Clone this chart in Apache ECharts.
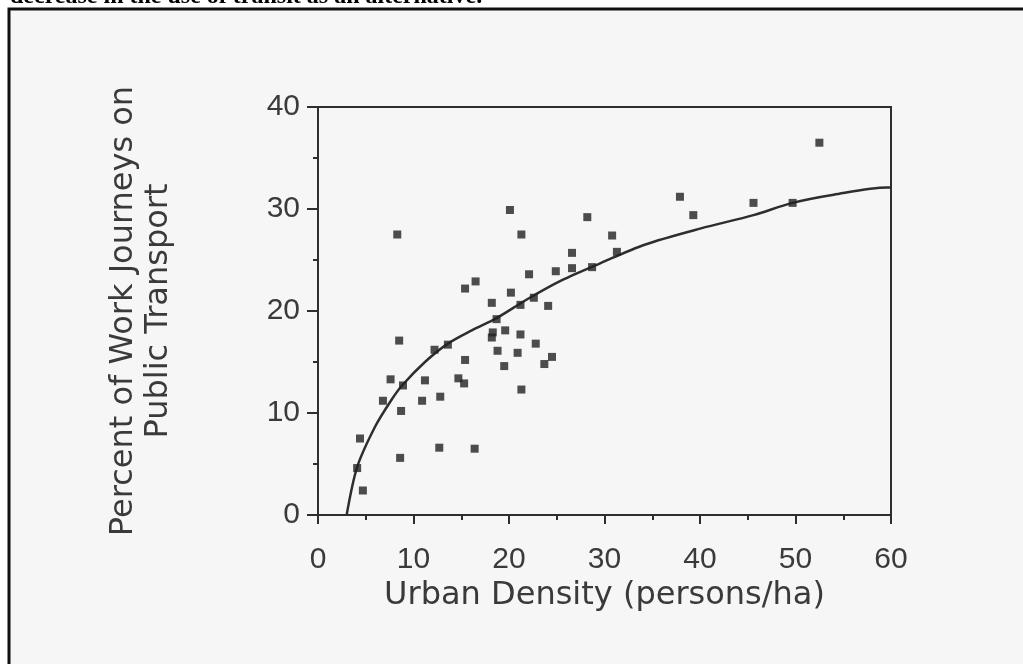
<!DOCTYPE html>
<html>
<head>
<meta charset="utf-8">
<script src="https://cdn.jsdelivr.net/npm/echarts@6/dist/echarts.min.js"></script>
<style>
  html, body { margin: 0; padding: 0; background: #fff; }
  #chart { width: 1023px; height: 664px; }
</style>
</head>
<body>
<div id="chart"></div>
<script>
// Cities: urban density (persons/ha) vs. % of work journeys on public transport
const densityX = [8.3, 20.1, 21.3, 28.2, 30.8, 31.3, 26.6, 26.6, 28.7, 24.9, 22.1, 16.5, 15.4, 20.2,
    18.2, 22.6, 21.2, 24.1, 18.7, 18.3, 18.2, 19.6, 21.2, 22.8, 18.8, 20.9, 24.5, 23.7, 19.5, 21.3,
    15.4, 14.7, 15.3, 13.6, 12.2, 8.5, 11.2, 10.9, 12.8, 7.6, 8.9, 6.8, 8.7, 12.7, 16.4, 8.6,
    4.4, 4.1, 4.7, 52.5, 37.9, 39.3, 45.6, 49.7];
const transitY = [27.5, 29.9, 27.5, 29.2, 27.4, 25.8, 25.7, 24.2, 24.3, 23.9, 23.6, 22.9, 22.2, 21.8,
    20.8, 21.3, 20.6, 20.5, 19.2, 17.9, 17.4, 18.1, 17.7, 16.8, 16.1, 15.9, 15.5, 14.8, 14.6, 12.3,
    15.2, 13.4, 12.9, 16.7, 16.2, 17.1, 13.2, 11.2, 11.6, 13.3, 12.7, 11.2, 10.2, 6.6, 6.5, 5.6,
    7.5, 4.6, 2.4, 36.5, 31.2, 29.4, 30.6, 30.6];

// fitted curve
const curveX = [3.0, 4.1, 6.0, 7.7, 8.8, 11.2, 13.6, 16.1, 18.7, 22.0, 25.5, 29.6, 34.2, 40.1, 45.6, 49.7, 54.0, 59.6, 60.0];
const curveY = [0, 4.7, 8.7, 11.3, 12.7, 15.0, 16.8, 18.1, 19.3, 21.2, 23.0, 24.7, 26.5, 28.1, 29.4, 30.6, 31.4, 32.1, 32.1];

const xTicks = [0, 10, 20, 30, 40, 50, 60];
const yTicks = [0, 10, 20, 30, 40];

const topText = 'decrease in the use of transit as an alternative.';
const xTitle = 'Urban Density (persons/ha)';
const yTitle = 'Percent of Work Journeys on\nPublic Transport';

const ink = '#2e2e2e';

const chart = echarts.init(document.getElementById('chart'));

chart.setOption({
    backgroundColor: '#fff',
    animation: false,
    graphic: [
        {
            type: 'rect', z: -10, silent: true,
            shape: { x: 9, y: 9, width: 1040, height: 700 },
            style: { fill: '#f6f6f6', stroke: '#111', lineWidth: 3 }
        },
        {
            type: 'text', silent: true, left: 10, top: -15,
            style: { text: topText, font: 'bold 24px "Liberation Serif"', fill: '#000' }
        }
    ],
    grid: {
        left: 318, right: 132, top: 107, bottom: 149,
        show: true, borderColor: ink, borderWidth: 2, backgroundColor: 'transparent'
    },
    xAxis: {
        type: 'value', min: xTicks[0], max: xTicks[xTicks.length - 1], interval: 10,
        name: xTitle, nameLocation: 'middle', nameGap: 52,
        nameTextStyle: { fontFamily: 'DejaVu Sans', fontSize: 32, color: '#3a3a3a' },
        axisLine: { onZero: false, lineStyle: { color: ink, width: 2 } },
        axisTick: { show: true, length: 9, lineStyle: { color: ink, width: 2 } },
        minorTick: { show: true, splitNumber: 2, length: 5, lineStyle: { color: ink, width: 2 } },
        splitLine: { show: false },
        axisLabel: { margin: 30, fontFamily: '"Liberation Sans", Arial', fontSize: 30, color: '#3a3a3a' }
    },
    yAxis: {
        type: 'value', min: yTicks[0], max: yTicks[yTicks.length - 1], interval: 10,
        name: yTitle, nameLocation: 'middle', nameGap: 142, nameRotate: 90,
        nameTextStyle: { fontFamily: 'DejaVu Sans', fontSize: 32, lineHeight: 35, color: '#3a3a3a', align: 'center' },
        axisLine: { onZero: false, lineStyle: { color: ink, width: 2 } },
        axisTick: { show: true, length: 11, lineStyle: { color: ink, width: 2 } },
        minorTick: { show: true, splitNumber: 2, length: 5, lineStyle: { color: ink, width: 2 } },
        splitLine: { show: false },
        axisLabel: { margin: 18, fontFamily: '"Liberation Sans", Arial', fontSize: 30, color: '#3a3a3a' }
    },
    series: [
        {
            type: 'line',
            data: curveX.map((x, i) => [x, curveY[i]]),
            smooth: 0.3,
            showSymbol: false,
            lineStyle: { color: ink, width: 2.5 },
            z: 3
        },
        {
            type: 'scatter',
            data: densityX.map((x, i) => [x, transitY[i]]),
            symbol: 'rect',
            symbolSize: 8,
            itemStyle: { color: '#222' },
            z: 4
        }
    ]
});
</script>
</body>
</html>
